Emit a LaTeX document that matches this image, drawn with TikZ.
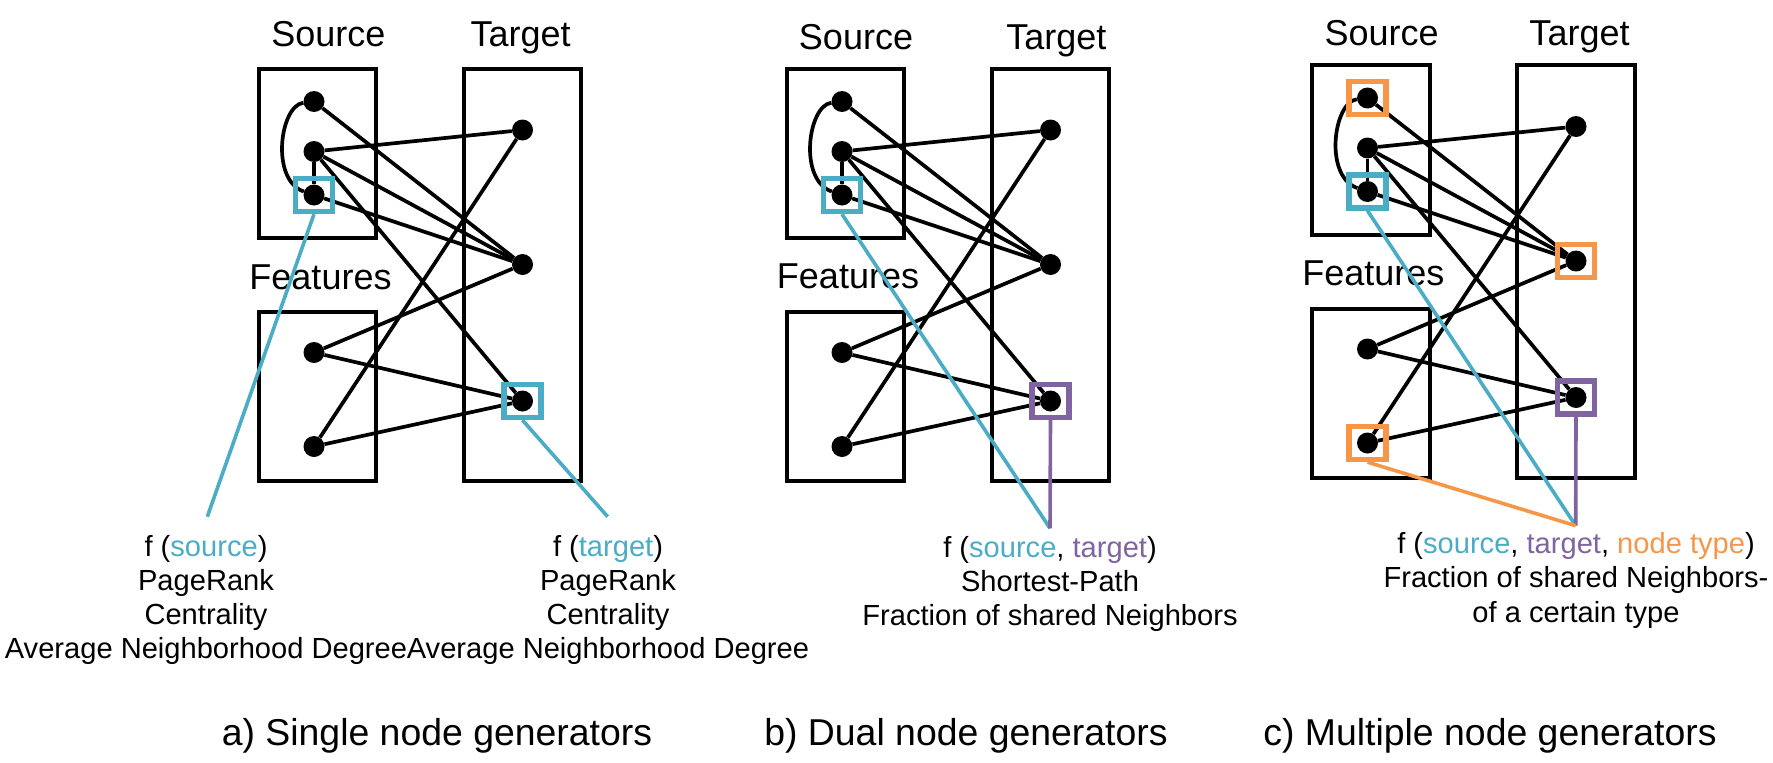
\documentclass[tikz,border=0pt]{standalone}
\usepackage{fontspec}
\setmainfont{Liberation Sans}
\definecolor{cyanc}{HTML}{4BACC6}
\definecolor{purplec}{HTML}{8064A2}
\definecolor{orangec}{HTML}{F79646}
\tikzset{
  boxline/.style={line width=4pt, draw=black},
  edge/.style={line width=3.7pt, draw=black},
  dot/.style={circle, fill=black, minimum size=21pt, inner sep=0pt},
  sq/.style={rectangle, line width=5.3pt, minimum width=37pt, minimum height=33pt, inner sep=0pt},
  link/.style={line width=3.6pt},
  head/.style={font=\fontsize{36}{43}\selectfont, inner sep=0pt, anchor=base},
  body/.style={font=\fontsize{29.1}{34.3}\selectfont, align=center, inner sep=0pt, anchor=base},
  capt/.style={font=\fontsize{37.4}{44}\selectfont, inner sep=0pt, anchor=base},
}
\newcommand{\drawpanel}[1]{%
  \draw[boxline] (258.7,68.5) rectangle (376.3,238);
  \draw[boxline] (258.7,312) rectangle (376.3,481.3);
  \draw[boxline] (463.7,68.5) rectangle (581.3,481.3);
  \node[dot] (#1S1) at (314,101.5) {};
  \node[dot] (#1S2) at (314,151.5) {};
  \node[dot] (#1S3) at (314,195) {};
  \node[dot] (#1T1) at (522.5,130) {};
  \node[dot] (#1T2) at (522.5,264.5) {};
  \node[dot] (#1T3) at (522.5,401) {};
  \node[dot] (#1F1) at (314,352.5) {};
  \node[dot] (#1F2) at (314,446.5) {};
  \draw[edge] (#1S1) -- (#1T2);
  \draw[edge] (#1S2) -- (#1T1);
  \draw[edge] (#1S2) -- (#1T2);
  \draw[edge] (#1S2) -- (#1T3);
  \draw[edge] (#1S2) -- (#1S3);
  \draw[edge] (#1S3) -- (#1T2);
  \draw[edge] (#1T1) -- (#1F2);
  \draw[edge] (#1T2) -- (#1F1);
  \draw[edge] (#1F1) -- (#1T3);
  \draw[edge] (#1F2) -- (#1T3);
  \draw[edge] (#1S1) .. controls +(-34,4) and +(-44,-15) .. (#1S3);
}
\begin{document}
\begin{tikzpicture}[x=1pt,y=-1pt]
\useasboundingbox (0,0) rectangle (1773,763);
\begin{scope}
  \drawpanel{a}
\end{scope}
\begin{scope}[shift={(528,0)}]
  \drawpanel{b}
\end{scope}
\begin{scope}[shift={(1053.5,-3.5)}]
  \drawpanel{c}
\end{scope}
% headings
\node[head] (aHs) at (328.3,46) {Source};
\node[head] (aHt) at (520.7,46) {Target};
\node[head] (aHf) at (320.5,289) {Features};
\node[head] (bHs) at (856,49) {Source};
\node[head] (bHt) at (1056.3,49) {Target};
\node[head] (bHf) at (848,288) {Features};
\node[head] (cHs) at (1381.7,45) {Source};
\node[head] (cHt) at (1579.5,45) {Target};
\node[head] (cHf) at (1373.3,285) {Features};
% highlight squares
\node[sq, draw=cyanc] (aQs) at (aS3) {};
\node[sq, draw=cyanc] (aQt) at (aT3) {};
\node[sq, draw=cyanc] (bQs) at (bS3) {};
\node[sq, draw=purplec] (bQt) at (bT3) {};
\node[sq, draw=orangec] (cQa) at (cS1) {};
\node[sq, draw=cyanc] (cQs) at (cS3) {};
\node[sq, draw=orangec] (cQb) at (cT2) {};
\node[sq, draw=purplec] (cQt) at (cT3) {};
\node[sq, draw=orangec] (cQf) at (cF2) {};
% connector ends
\coordinate (ca1) at (207.3,516.7);
\coordinate (ca2) at (607.7,516.7);
\coordinate (cb) at (1050,528.3);
\coordinate (cc) at (1575.7,525.7);
\draw[link, cyanc] (aQs.south) -- (ca1);
\draw[link, cyanc] (aQt.south) -- (ca2);
\draw[link, cyanc] (bQs.south) -- (cb);
\draw[link, purplec] (bQt.south) -- (cb);
\draw[link, cyanc] (cQs.south) -- (cc);
\draw[link, purplec] (cQt.south) -- (cc);
\draw[link, orangec] (cQf.south) -- (cc);
% texts (base anchor = baseline of the last line)
\node[body] (aX1) at (206,658.9) {f (\textcolor{cyanc}{source})\\PageRank\\Centrality\\Average Neighborhood Degree};
\node[body] (aX2) at (608,658.9) {f (\textcolor{cyanc}{target})\\PageRank\\Centrality\\Average Neighborhood Degree};
\node[body] (bX) at (1050,625.6) {f (\textcolor{cyanc}{source}, \textcolor{purplec}{target})\\Shortest-Path\\Fraction of shared Neighbors};
\node[body] (cX) at (1576,622.1) {f (\textcolor{cyanc}{source}, \textcolor{purplec}{target}, \textcolor{orangec}{node type})\\Fraction of shared Neighbors-\\of a certain type};
% captions
\node[capt] (aC) at (437,745) {a) Single node generators};
\node[capt] (bC) at (966,745) {b) Dual node generators};
\node[capt] (cC) at (1490,745) {c) Multiple node generators};
\end{tikzpicture}
\end{document}
